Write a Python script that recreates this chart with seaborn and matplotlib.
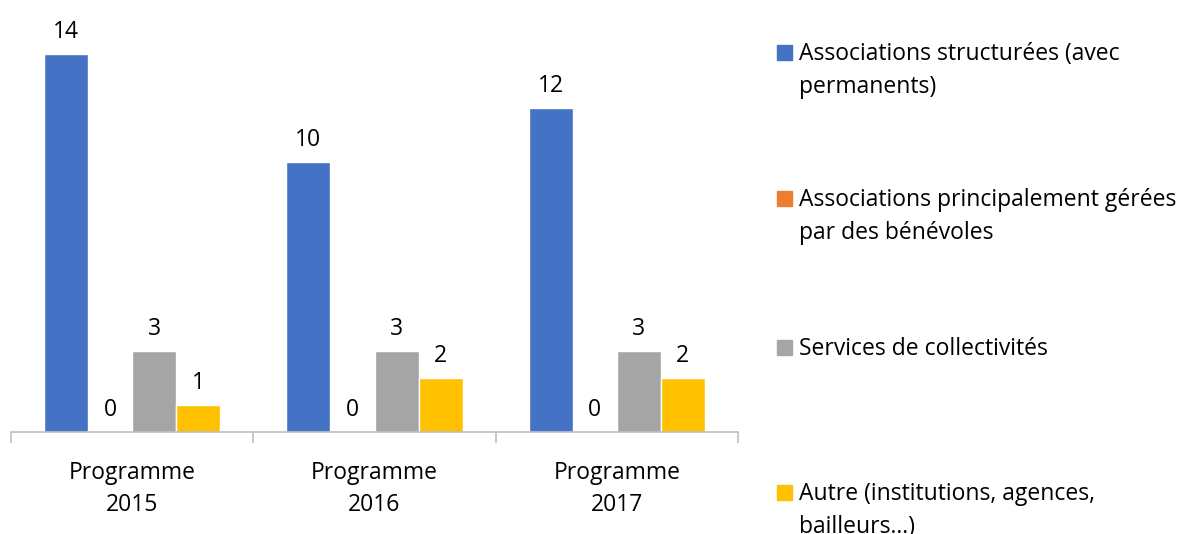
import pandas as pd
import matplotlib
matplotlib.use("Agg")
import matplotlib.pyplot as plt
import matplotlib.patches as mpatches
import seaborn as sns

# data
programmes = ["Programme\n2015", "Programme\n2016", "Programme\n2017"]
series = [
    "Associations structurées (avec\npermanents)",
    "Associations principalement gérées\npar des bénévoles",
    "Services de collectivités",
    "Autre (institutions, agences,\nbailleurs…)",
]
structurees = [14, 10, 12]
benevoles = [0, 0, 0]
collectivites = [3, 3, 3]
autre = [1, 2, 2]
colors = ["#4472C4", "#ED7D31", "#A5A5A5", "#FFC000"]

sns.set_theme(style="white")
plt.rcParams["font.family"] = ["Open Sans", "DejaVu Sans"]
FS = 16.5

rows = []
for s, vals in zip(series, [structurees, benevoles, collectivites, autre]):
    for p, v in zip(programmes, vals):
        rows.append({"programme": p, "type": s, "value": v})
df = pd.DataFrame(rows)

W, H = 1184, 534
fig = plt.figure(figsize=(W / 100, H / 100), dpi=100)
ax = fig.add_axes([11 / W, (H - 432) / H, (738 - 11) / W, 432 / H])

sns.barplot(data=df, x="programme", y="value", hue="type", hue_order=series,
            palette=colors, width=0.727, saturation=1, legend=False, ax=ax)

for c in ax.containers:
    ax.bar_label(c, fmt="%g", padding=7, fontsize=FS, color="#000000")

ax.set_ylim(0, 16)
ax.set_xlim(-0.5, 2.5)
ax.set_xlabel("")
ax.set_ylabel("")
ax.set_yticks([])
for sp in ["top", "right", "left"]:
    ax.spines[sp].set_visible(False)
ax.spines["bottom"].set_color("#BFBFBF")
ax.spines["bottom"].set_linewidth(1.2)
ax.set_xticks([-0.5, 0.5, 1.5, 2.5], minor=True)
ax.tick_params(axis="x", which="minor", length=8, width=1.2, color="#BFBFBF", bottom=True)
ax.tick_params(axis="x", which="major", length=0, pad=21, labelsize=FS, labelcolor="#000000")
for t in ax.get_xticklabels():
    t.set_linespacing(1.42)

# legend drawn by hand to keep the wide slots of the original
legend_tops = [42, 188, 337, 482]
for top, lab, col in zip(legend_tops, series, colors):
    fig.patches.append(mpatches.Rectangle((777 / W, 1 - (top + 18) / H), 15 / W, 15 / H,
                                          transform=fig.transFigure, color=col))
    fig.text(799 / W, 1 - top / H, lab, fontsize=FS, va="top", ha="left",
             linespacing=1.5, color="#000000")

fig.savefig("out.png", dpi=100)
